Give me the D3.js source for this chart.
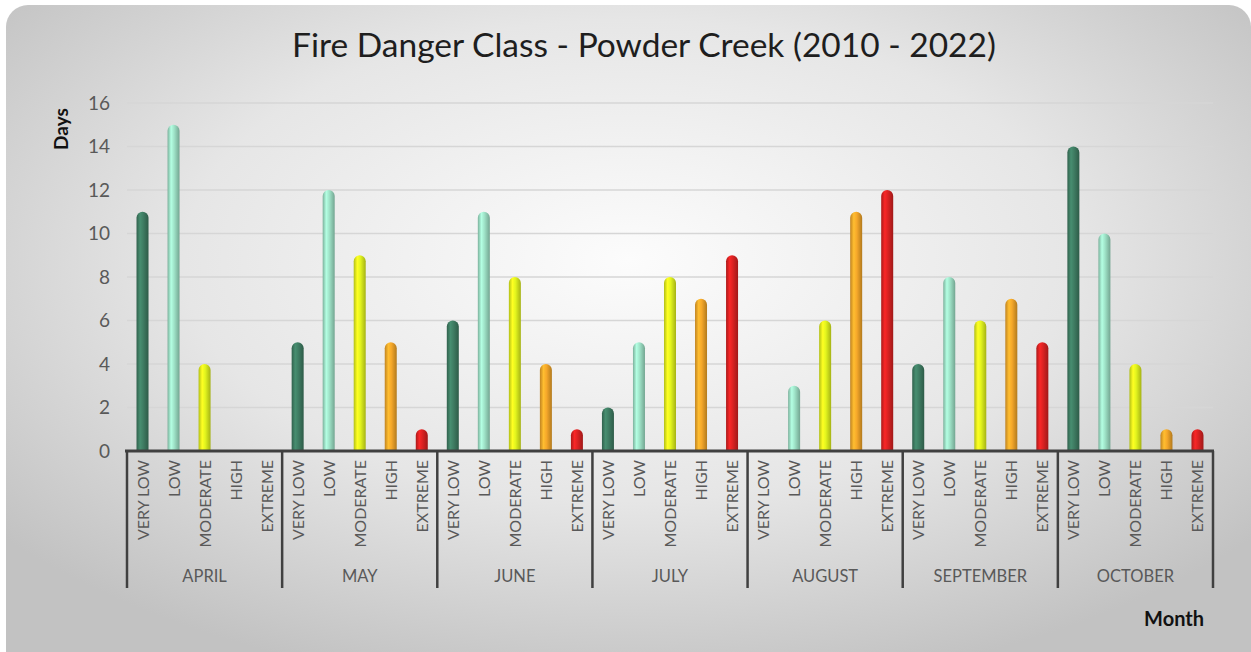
<!DOCTYPE html>
<html>
<head>
<meta charset="utf-8">
<script src="https://cdn.jsdelivr.net/npm/d3@7/dist/d3.min.js"></script>
<style>
  html, body { margin: 0; padding: 0; background: #ffffff; }
  svg { display: block; }
  text { font-family: Lato, "Open Sans", sans-serif; }
</style>
</head>
<body>
<svg id="chart" width="1251" height="652"></svg>
<script>
// Fire danger class days per month, Powder Creek (2010 - 2022)
const months = ["APRIL", "MAY", "JUNE", "JULY", "AUGUST", "SEPTEMBER", "OCTOBER"];
const classes = ["VERY LOW", "LOW", "MODERATE", "HIGH", "EXTREME"];
const classColors = ["#3f7d63", "#9fe3c8", "#e3f51e", "#f6a82a", "#dc2222"];
const veryLow  = [11, 5, 6, 2, 0, 4, 14];
const low      = [15, 12, 11, 5, 3, 8, 10];
const moderate = [4, 9, 8, 8, 6, 6, 4];
const high     = [0, 5, 4, 7, 11, 7, 1];
const extreme  = [0, 1, 1, 9, 12, 5, 1];
const yTicks = [0, 2, 4, 6, 8, 10, 12, 14, 16];

const seriesByClass = [veryLow, low, moderate, high, extreme];
const rows = [];
months.forEach((m, mi) => {
  classes.forEach((c, ci) => {
    rows.push({ key: m + "|" + c, month: m, cls: c, ci, value: seriesByClass[ci][mi] });
  });
});

const W = 1251, H = 652;
const svg = d3.select("#chart");
const defs = svg.append("defs");

// Panel background: soft radial grey
const bg = defs.append("radialGradient").attr("id", "bg")
  .attr("cx", "50%").attr("cy", "38%").attr("r", "65%");
bg.append("stop").attr("offset", "0%").attr("stop-color", "#fcfcfc");
bg.append("stop").attr("offset", "55%").attr("stop-color", "#e6e6e6");
bg.append("stop").attr("offset", "100%").attr("stop-color", "#c2c2c2");

svg.append("rect")
  .attr("x", 6).attr("y", 5).attr("width", W - 6).attr("height", H + 20)
  .attr("rx", 22).attr("ry", 22)
  .attr("fill", "url(#bg)");

// Cylinder shading per class colour
classColors.forEach((col, i) => {
  const g = defs.append("linearGradient").attr("id", "cyl" + i)
    .attr("x1", "0%").attr("x2", "100%").attr("y1", "0%").attr("y2", "0%");
  const c = d3.color(col);
  g.append("stop").attr("offset", "0%").attr("stop-color", c.darker(0.7));
  g.append("stop").attr("offset", "30%").attr("stop-color", c.brighter(0.35));
  g.append("stop").attr("offset", "55%").attr("stop-color", c);
  g.append("stop").attr("offset", "100%").attr("stop-color", c.darker(0.9));
});

const plot = { left: 127, right: 1213, top: 103, bottom: 451 };

const y = d3.scaleLinear().domain([0, 16]).range([plot.bottom, plot.top]);
const xMonth = d3.scaleBand().domain(months).range([plot.left, plot.right]).padding(0);
const xCls = d3.scaleBand().domain(classes).range([0, xMonth.bandwidth()]).padding(0);
const barW = 12;

// Title
svg.append("text")
  .attr("x", 644).attr("y", 57)
  .attr("text-anchor", "middle")
  .attr("font-size", 33.5).attr("fill", "#1e1e1e")
  .text("Fire Danger Class - Powder Creek (2010 - 2022)");

// Gridlines
const grid = svg.append("g");
grid.selectAll("line").data(yTicks.filter(d => d > 0)).join("line")
  .attr("x1", plot.left).attr("x2", plot.right)
  .attr("y1", d => y(d)).attr("y2", d => y(d))
  .attr("stroke", "#d6d6d6").attr("stroke-width", 1.5);

// Y axis labels
const yAxis = d3.axisLeft(y).tickValues(yTicks).tickSize(0).tickPadding(0);
const yg = svg.append("g").attr("transform", `translate(${plot.left - 17},0)`).call(yAxis);
yg.select(".domain").remove();
yg.selectAll("text").attr("font-size", 19).attr("fill", "#595959")
  .attr("font-family", "Lato, sans-serif");

svg.append("text")
  .attr("transform", "translate(68,129) rotate(-90)")
  .attr("text-anchor", "middle")
  .attr("font-size", 19).attr("font-weight", "bold").attr("fill", "#111")
  .text("Days");

// Bars with rounded tops
const bars = svg.append("g");
bars.selectAll("path").data(rows.filter(d => d.value > 0), d => d.key).join("path")
  .attr("d", d => {
    const cx = xMonth(d.month) + xCls(d.cls) + xCls.bandwidth() / 2;
    const x0 = cx - barW / 2, x1 = cx + barW / 2;
    const top = y(d.value), base = y(0);
    const r = barW / 2;
    return `M${x0},${base} L${x0},${top + r} A${r},${r} 0 0 1 ${x1},${top + r} L${x1},${base} Z`;
  })
  .attr("fill", d => `url(#cyl${d.ci})`);

// Category axis
const axisCol = "#404040";
svg.append("line")
  .attr("x1", plot.left - 2).attr("x2", plot.right + 1)
  .attr("y1", plot.bottom).attr("y2", plot.bottom)
  .attr("stroke", axisCol).attr("stroke-width", 3);

const bounds = months.map(m => xMonth(m)).concat([plot.right]);
svg.append("g").selectAll("line").data(bounds).join("line")
  .attr("x1", d => d).attr("x2", d => d)
  .attr("y1", plot.bottom).attr("y2", 588)
  .attr("stroke", axisCol).attr("stroke-width", 2.5);

const catLabels = svg.append("g");
catLabels.selectAll("text").data(rows, d => d.key).join("text")
  .attr("transform", d => {
    const cx = xMonth(d.month) + xCls(d.cls) + xCls.bandwidth() / 2;
    return `translate(${cx + 6},${plot.bottom + 9}) rotate(-90)`;
  })
  .attr("text-anchor", "end")
  .attr("font-size", 16).attr("fill", "#595959")
  .text(d => d.cls);

svg.append("g").selectAll("text").data(months).join("text")
  .attr("x", d => xMonth(d) + xMonth.bandwidth() / 2)
  .attr("y", 582)
  .attr("text-anchor", "middle")
  .attr("font-size", 16.5).attr("fill", "#595959")
  .text(d => d);

svg.append("text")
  .attr("x", 1204).attr("y", 626)
  .attr("text-anchor", "end")
  .attr("font-size", 20).attr("font-weight", "bold").attr("fill", "#111")
  .text("Month");
</script>
</body>
</html>
